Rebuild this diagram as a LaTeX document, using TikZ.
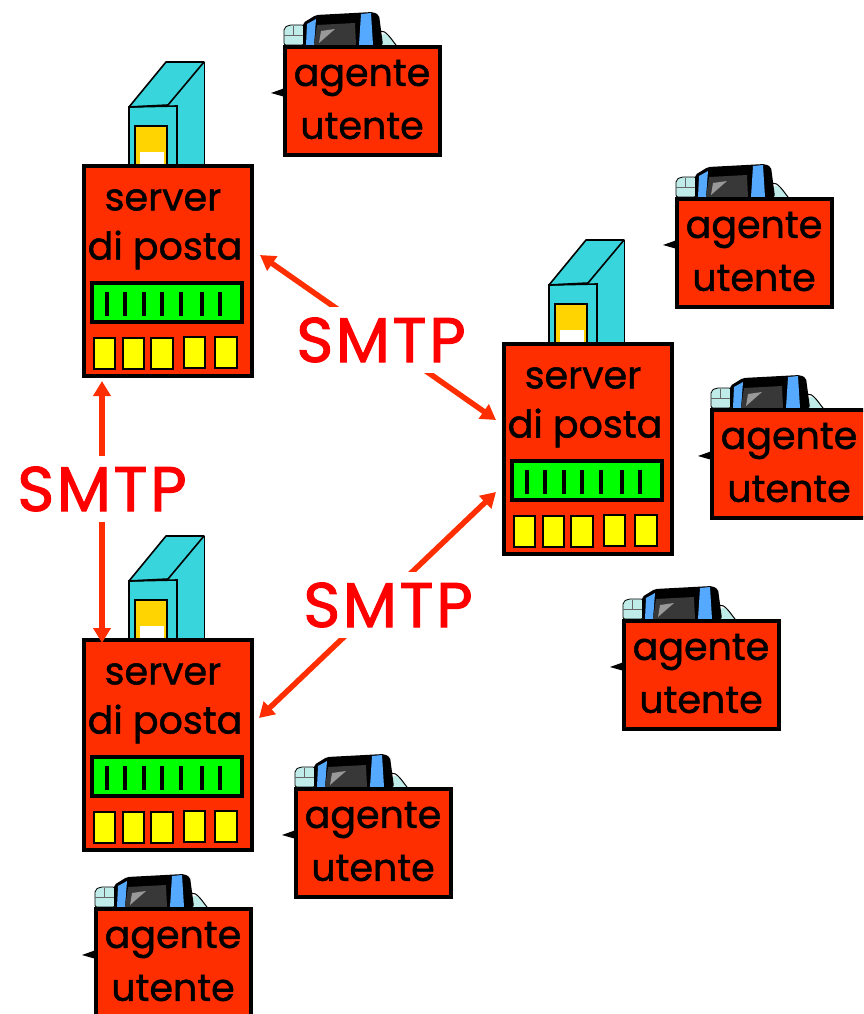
\documentclass[tikz,border=0pt]{standalone}
\usepackage{fontspec}
\setmainfont{Poppins}
\newfontfamily\wordfont[FakeBold=1.2]{Poppins}
\newfontfamily\smtpfont[FakeBold=1.6,LetterSpace=4]{Poppins}
\usetikzlibrary{arrows.meta}
\definecolor{boxred}{HTML}{FF2E00}
\definecolor{towerteal}{HTML}{38D6DC}
\definecolor{doorgold}{HTML}{FFD400}
\definecolor{slotgreen}{HTML}{00FF00}
\definecolor{slotyellow}{HTML}{FFFF00}
\definecolor{monblue}{HTML}{55AAFF}
\definecolor{pale}{HTML}{BFEBE8}
\tikzset{
  x=1pt,y=-1pt,
  redbox/.style={draw=black,fill=boxred,line width=4pt,inner sep=0pt,outer sep=0pt,anchor=north west},
  thin outline/.style={draw=black,line width=1.6pt},
  word/.style={font=\wordfont\fontsize{38}{38}\selectfont,text=black,inner sep=0pt},
  smtp/.style={font=\smtpfont\fontsize{63}{63}\selectfont,text=red,fill=white,inner sep=0pt,minimum height=66pt,minimum width=172pt},
  link/.style={draw=boxred,line width=5.5pt,{Triangle[length=15pt,width=17pt]}-{Triangle[length=15pt,width=17pt]}},
}
\newcommand{\servermail}[3]{%
 \begin{scope}[shift={(#2,#3)}]
  \fill[towerteal] (46,-58) -- (83,-103) -- (121,-103) -- (121,0) -- (46,0) -- cycle;
  \draw[black,line width=1pt] (121,-103) -- (121,0);
  \draw[thin outline,line join=round] (46,0) -- (46,-58) -- (83,-103) -- (121,-103) -- (85,-60) -- (46,-58);
  \draw[thin outline] (46,0) -- (46,-58) -- (94,-59) -- (94,0);
  \draw[thin outline,fill=doorgold] (52,0) -- (52,-39) -- (84,-39) -- (84,0);
  \fill[white] (57,-13) rectangle (81,-1);
  \node[redbox,minimum width=168pt,minimum height=210pt] (#1) at (1,1) {};
  \node[word] (#1t1) at (80,35) {server};
  \node[word] (#1t2) at (82,85) {di posta};
  \node[draw=black,fill=slotgreen,line width=4pt,inner sep=0pt,outer sep=0pt,minimum width=150pt,minimum height=39pt,anchor=north west] (#1g) at (8.5,118) {};
  \foreach \t in {24,42,61,79,98,119,137} \draw[black,line width=3.6pt] (\t,127) -- (\t,151);
  \foreach \a/\b/\c in {11/32/173,40/61/173,68/90/173,101/122/172,132/154/172}
    \draw[black,line width=1.6pt,fill=slotyellow] (\a,\c) rectangle (\b,\c+31);
 \end{scope}}
\newcommand{\useragent}[3]{%
 \begin{scope}[shift={(#2,#3)}]
  \fill[black] (-12,48) -- (2,43) -- (2,52) -- cycle;
  \draw[black,line width=.8pt,fill=pale,rounded corners=2pt] (1,0) -- (1,-17) -- (6,-20) -- (21,-20) -- (21,0) -- cycle;
  \draw[black!60,line width=.5pt] (1,-10) -- (21,-10);
  \draw[black!60,line width=.5pt] (10,-19) -- (10,-10);
  \fill[pale] (96,0) .. controls (96,-12) and (104,-18) .. (112,0) -- cycle;
  \draw[black,line width=1pt] (97,-14) .. controls (103,-15) and (108,-6) .. (113,0);
  \fill[black,rounded corners=2pt] (20,0) -- (20,-22) -- (33,-30) -- (90,-33) -- (96,-30) -- (100,0) -- cycle;
  \fill[monblue] (23,0) -- (24,-21) -- (33,-26) -- (31,0) -- cycle;
  \fill[monblue] (76,0) -- (78,-31) -- (88,-32) -- (90,0) -- cycle;
  \fill[black!78] (31,0) -- (34,-20) -- (72,-22) -- (73,0) -- cycle;
  \fill[black!40] (36,-2) -- (38,-14) -- (52,-16) -- cycle;
  \node[redbox,minimum width=155pt,minimum height=108pt] (#1) at (2,2) {};
  \node[word] (#1t1) at (79,33) {agente};
  \node[word] (#1t2) at (79,81) {utente};
 \end{scope}}
\begin{document}
\begin{tikzpicture}
 \useasboundingbox (0,0) rectangle (863,1014);
 \clip (0,0) rectangle (863,1014);
 \servermail{srvA}{83}{165}
 \servermail{srvB}{503}{343}
 \servermail{srvC}{83}{639}
 \useragent{uaA}{283}{45}
 \useragent{uaB}{675}{197}
 \useragent{uaC}{710}{408}
 \useragent{uaD}{622}{619}
 \useragent{uaE}{294}{787}
 \useragent{uaF}{94}{907}
 \coordinate (ab1) at (102,381);
 \coordinate (ab2) at (102,643);
 \coordinate (ac1) at (260,255);
 \coordinate (ac2) at (496,420);
 \coordinate (bc1) at (259,718);
 \coordinate (bc2) at (496,492);
 \draw[link] (ab1) -- (ab2);
 \draw[link] (ac1) -- (ac2);
 \draw[link] (bc1) -- (bc2);
 \node[smtp] (smtpL) at (102,489) {SMTP};
 \node[smtp] (smtpT) at (381,340) {SMTP};
 \node[smtp] (smtpB) at (388,605) {SMTP};
\end{tikzpicture}
\end{document}
